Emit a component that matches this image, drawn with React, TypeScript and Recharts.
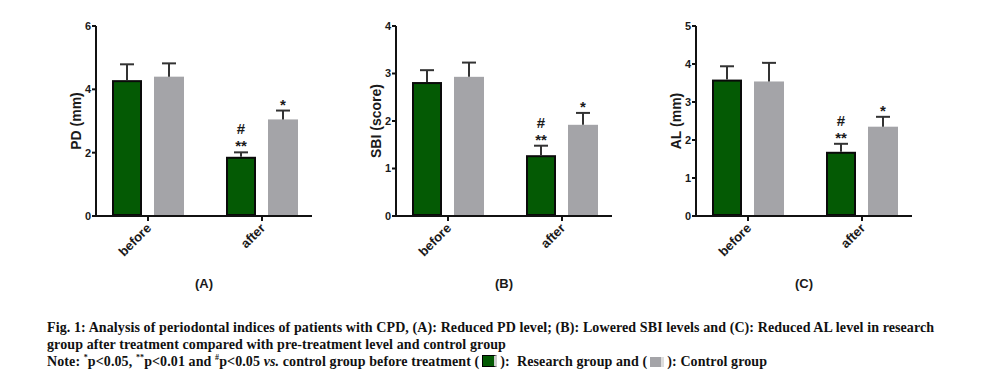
import { BarChart, Bar, XAxis, YAxis } from "recharts";

// categories on the x axis
const categories = ["before", "after"];

// (A) PD (mm)
const pdResearch = [4.29, 1.87];
const pdResearchErr = [0.5, 0.14];
const pdControl = [4.4, 3.05];
const pdControlErr = [0.42, 0.28];

// (B) SBI (score)
const sbiResearch = [2.82, 1.28];
const sbiResearchErr = [0.25, 0.2];
const sbiControl = [2.93, 1.92];
const sbiControlErr = [0.3, 0.25];

// (C) AL (mm)
const alResearch = [3.59, 1.69];
const alResearchErr = [0.35, 0.21];
const alControl = [3.54, 2.35];
const alControlErr = [0.49, 0.26];

// significance marks
const researchStars = ["", "**"];
const researchHash = ["", "#"];
const controlStars = ["", "*"];

const pdTicks = [0, 2, 4, 6];
const sbiTicks = [0, 1, 2, 3, 4];
const alTicks = [0, 1, 2, 3, 4, 5];

const GREEN = "#045a04";
const GREY = "#a4a4a8";
const INK = "#1a1a1a";
const SANS = "Arial, 'Liberation Sans'";

const buildRows = (r: number[], re: number[], c: number[], ce: number[]) =>
  categories.map((name, i) => ({
    name,
    research: r[i],
    researchErr: re[i],
    control: c[i],
    controlErr: ce[i],
    researchStars: researchStars[i],
    researchHash: researchHash[i],
    controlStars: controlStars[i],
  }));

const makeShape =
  (errKey: string, starKey: string, hashKey: string | null, fill: string, outline: boolean) =>
  (props: any) => {
    const { x, y, width, height, payload, dataKey } = props;
    const v = payload[dataKey];
    const ppu = v ? height / v : 0;
    const top = y - payload[errKey] * ppu;
    const cx = x + width / 2;
    const stars = payload[starKey];
    const hash = hashKey ? payload[hashKey] : "";
    return (
      <g>
        {outline ? (
          <rect x={x + 1} y={y + 1} width={width - 2} height={height - 2} fill={fill} stroke="#0a0a0a" strokeWidth={2} />
        ) : (
          <rect x={x} y={y} width={width} height={height} fill={fill} />
        )}
        <line x1={cx} x2={cx} y1={y} y2={top} stroke="#333" strokeWidth={2} />
        <line x1={cx - 7} x2={cx + 7} y1={top} y2={top} stroke="#333" strokeWidth={2} />
        {stars ? (
          <text x={cx} y={top - 1} textAnchor="middle" fontSize={15} fontWeight="bold" fontFamily={SANS} fill={INK}>
            {stars}
          </text>
        ) : null}
        {hash ? (
          <text x={cx} y={top - 18} textAnchor="middle" fontSize={15} fontWeight="bold" fontFamily={SANS} fill={INK}>
            {hash}
          </text>
        ) : null}
      </g>
    );
  };

const researchShape = makeShape("researchErr", "researchStars", "researchHash", GREEN, true);
const controlShape = makeShape("controlErr", "controlStars", null, GREY, false);

const CatTick = (props: any) => {
  const { x, y, payload } = props;
  return (
    <g transform={`translate(${x + 4},${y + 6})`}>
      <text x={0} y={0} textAnchor="end" transform="rotate(-45)" fontSize={13} fontWeight="bold" fontFamily={SANS} fill={INK}>
        {payload.value}
      </text>
    </g>
  );
};

const Panel = ({ left, data, max, ticks, yLabel, panelLabel }: any) => (
  <div style={{ position: "absolute", left, top: 0 }}>
    <BarChart width={276} height={300} data={data} margin={{ top: 26, right: 0, bottom: 0, left: 0 }} barGap={12} barSize={30}>
      <XAxis
        dataKey="name"
        height={84}
        interval={0}
        padding={{ left: -5, right: -7 }}
        axisLine={{ stroke: "#111", strokeWidth: 2 }}
        tickLine={{ stroke: "#111", strokeWidth: 2 }}
        tickSize={5}
        tick={<CatTick />}
        label={(p: any) => (
          <text
            x={p.viewBox.x + p.viewBox.width / 2}
            y={p.viewBox.y + 72}
            textAnchor="middle"
            fontSize={13}
            fontWeight="bold"
            fontFamily={SANS}
            fill={INK}
          >
            {panelLabel}
          </text>
        )}
      />
      <YAxis
        width={60}
        domain={[0, max]}
        ticks={ticks}
        interval={0}
        axisLine={{ stroke: "#111", strokeWidth: 2 }}
        tickLine={{ stroke: "#111", strokeWidth: 2 }}
        tickSize={4}
        tickMargin={1}
        tick={{ fill: INK, fontSize: 11, fontWeight: "bold", fontFamily: SANS }}
        label={(p: any) => {
          const lx = p.viewBox.x + p.viewBox.width - 15;
          const ly = p.viewBox.y + p.viewBox.height / 2;
          return (
            <text
              x={lx}
              y={ly}
              transform={`rotate(-90, ${lx}, ${ly})`}
              textAnchor="middle"
              fontSize={14}
              fontWeight="bold"
              fontFamily={SANS}
              fill={INK}
            >
              {yLabel}
            </text>
          );
        }}
      />
      <Bar dataKey="research" isAnimationActive={false} shape={researchShape} />
      <Bar dataKey="control" isAnimationActive={false} shape={controlShape} />
    </BarChart>
  </div>
);

const Swatch = ({ color, border }: { color: string; border: boolean }) => (
  <span
    style={{
      display: "inline-block",
      width: 11,
      height: 10,
      background: color,
      border: border ? "1px solid #000" : "none",
      borderRight: border ? "3px solid #ccc" : "3px solid #ddd",
      verticalAlign: "-1px",
      margin: "0 3px",
    }}
  />
);

export default function App() {
  return (
    <div style={{ position: "absolute", left: 0, top: 0, width: 1000, height: 373, background: "#fff", overflow: "hidden" }}>
      <Panel left={36} data={buildRows(pdResearch, pdResearchErr, pdControl, pdControlErr)} max={6} ticks={pdTicks} yLabel="PD (mm)" panelLabel="(A)" />
      <Panel left={336} data={buildRows(sbiResearch, sbiResearchErr, sbiControl, sbiControlErr)} max={4} ticks={sbiTicks} yLabel="SBI (score)" panelLabel="(B)" />
      <Panel left={636} data={buildRows(alResearch, alResearchErr, alControl, alControlErr)} max={5} ticks={alTicks} yLabel="AL (mm)" panelLabel="(C)" />
      <div
        style={{
          position: "absolute",
          left: 47,
          top: 319,
          width: 950,
          fontFamily: "'Liberation Serif', 'Times New Roman', serif",
          fontWeight: "bold",
          fontSize: 14,
          letterSpacing: "0.1px",
          lineHeight: "17px",
          color: "#111",
          whiteSpace: "nowrap",
        }}
      >
        <div>
          Fig. 1: Analysis of periodontal indices of patients with CPD, (A): Reduced PD level; (B): Lowered SBI levels and (C): Reduced AL level in research
        </div>
        <div>group after treatment compared with pre-treatment level and control group</div>
        <div>
          Note: <sup style={{ fontSize: 8, lineHeight: 0 }}>*</sup>p&lt;0.05, <sup style={{ fontSize: 8, lineHeight: 0 }}>**</sup>p&lt;0.01 and{" "}
          <sup style={{ fontSize: 8, lineHeight: 0 }}>#</sup>p&lt;0.05 <i>vs.</i> control group before treatment (
          <Swatch color={GREEN} border={true} />
          ):&nbsp; Research group and (
          <Swatch color={GREY} border={false} />
          ): Control group
        </div>
      </div>
    </div>
  );
}
